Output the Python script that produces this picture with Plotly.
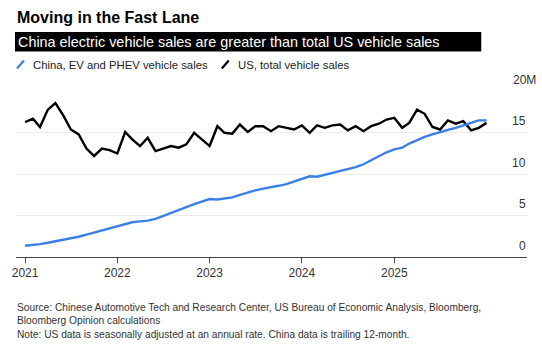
import pandas as pd
import plotly.graph_objects as go

months = pd.date_range("2021-01-01", "2026-01-01", freq="MS")

china_ev = [1.36, 1.45, 1.56, 1.72, 1.9, 2.05, 2.2, 2.45, 2.7, 2.95, 3.2, 3.45,
            3.7, 3.95, 4.2, 4.3, 4.4, 4.6, 4.95, 5.3, 5.7, 6.1, 6.4, 6.7,
            7.0, 6.95, 7.05, 7.2, 7.5, 7.8, 8.05, 8.25, 8.4, 8.6, 8.8, 9.1,
            9.5, 9.75, 9.7, 9.95, 10.2, 10.4, 10.6, 10.85, 11.2, 11.7, 12.2, 12.65,
            13.0, 13.2, 13.7, 14.1, 14.5, 14.8, 15.1, 15.35, 15.6, 15.9, 16.2, 16.5,
            16.5]

us_total = [16.3, 16.7, 15.7, 17.8, 18.6, 17.1, 15.4, 14.8, 13.1, 12.2, 13.1, 12.9,
            12.5, 15.1, 14.2, 13.4, 14.4, 12.8, 13.1, 13.4, 13.2, 13.6, 15.0, 14.2,
            13.4, 15.8, 15.0, 14.9, 16.0, 15.1, 15.8, 15.8, 15.2, 15.8, 15.6, 15.4,
            15.9, 15.0, 15.9, 15.6, 15.9, 16.0, 15.3, 15.8, 15.2, 15.8, 16.1, 16.6,
            16.8, 15.6, 16.2, 17.8, 17.3, 15.7, 15.4, 16.5, 16.1, 16.4, 15.3, 15.6,
            16.2]

y_ticks = [0, 5, 10, 15, 20]
y_labels = ["0", "5", "10", "15", "20M"]
x_ticks = ["2021-01-01", "2022-01-01", "2023-01-01", "2024-01-01", "2025-01-01"]
x_labels = ["2021", "2022", "2023", "2024", "2025"]

title = "Moving in the Fast Lane"
subtitle = "China electric vehicle sales are greater than total US vehicle sales"
legend_names = ["China, EV and PHEV vehicle sales", "US, total vehicle sales"]
source = ("Source: Chinese Automotive Tech and Research Center, US Bureau of Economic Analysis, Bloomberg,<br>"
          "Bloomberg Opinion calculations<br>"
          "Note: US data is seasonally adjusted at an annual rate. China data is trailing 12-month.")

BLUE = "#3b7fe6"
BLACK = "#000000"
FONT = "Liberation Sans, Arial, Helvetica, sans-serif"

W, H = 542, 348
L, R, T, B = 13, 15, 91, 91
PW, PH = W - L - R, H - T - B

def px(x):
    return (x - L) / PW

def py(y):
    return (H - B - y) / PH

fig = go.Figure()
fig.add_trace(go.Scatter(x=months, y=us_total, mode="lines", name=legend_names[1],
                         line=dict(color=BLACK, width=2.4), showlegend=False))
fig.add_trace(go.Scatter(x=months, y=china_ev, mode="lines", name=legend_names[0],
                         line=dict(color=BLUE, width=2.4), showlegend=False))

annotations = []
shapes = []

# title
annotations.append(dict(xref="paper", yref="paper", x=px(12), y=py(17), xanchor="left", yanchor="middle",
                        text="<b>%s</b>" % title, showarrow=False,
                        font=dict(family=FONT, size=16, color="#000")))
# subtitle box
shapes.append(dict(type="rect", xref="paper", yref="paper", x0=px(12), x1=px(481), y0=py(32), y1=py(51.5),
                   fillcolor="#000", line=dict(width=0), layer="below"))
annotations.append(dict(xref="paper", yref="paper", x=px(12.5), y=py(42), xanchor="left", yanchor="middle",
                        text=subtitle, showarrow=False,
                        font=dict(family=FONT, size=14.4, color="#fff")))
# legend
leg = [(14, BLUE, legend_names[0]), (220, BLACK, legend_names[1])]
for x0, c, name in leg:
    shapes.append(dict(type="line", xref="paper", yref="paper", x0=px(x0), y0=py(68.5), x1=px(x0 + 7), y1=py(60.5),
                       line=dict(color=c, width=2.2)))
    annotations.append(dict(xref="paper", yref="paper", x=px(x0 + 14), y=py(64.5), xanchor="left", yanchor="middle",
                            text=name, showarrow=False,
                            font=dict(family=FONT, size=11.3, color="#222")))
# y labels
for v, t in zip(y_ticks, y_labels):
    xr = 538 if t.endswith("M") else 528
    annotations.append(dict(xref="paper", yref="y", x=px(xr), y=v, xanchor="right", yanchor="middle",
                            yshift=11.5, text=t, showarrow=False,
                            font=dict(family=FONT, size=12, color="#333")))
# source
annotations.append(dict(xref="paper", yref="paper", x=px(12), y=py(300), xanchor="left", yanchor="top",
                        align="left", text=source, showarrow=False,
                        font=dict(family=FONT, size=10.2, color="#333")))

fig.update_layout(
    width=W, height=H,
    margin=dict(l=L, r=R, t=T, b=B),
    paper_bgcolor="#fff", plot_bgcolor="#fff",
    font=dict(family=FONT, size=12, color="#333"),
    annotations=annotations, shapes=shapes,
    showlegend=False,
)
fig.update_xaxes(
    type="date",
    range=["2020-11-26", "2026-06-10"],
    tickvals=x_ticks, ticktext=x_labels,
    showgrid=False, zeroline=False,
    showline=True, linecolor="#444", linewidth=1,
    ticks="outside", ticklen=5, tickcolor="#444", tickwidth=1,
    tickfont=dict(family=FONT, size=12, color="#333"),
)
fig.update_yaxes(
    range=[0, 20.05],
    tickvals=y_ticks, showticklabels=False,
    showgrid=True, gridcolor="#ececec", gridwidth=1,
    zeroline=False, showline=False, ticks="",
)

fig.write_html("out.html")
